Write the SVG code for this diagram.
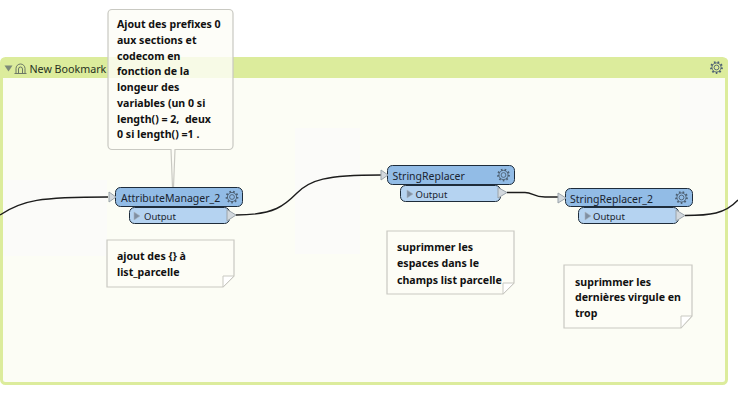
<svg xmlns="http://www.w3.org/2000/svg" width="738" height="402" viewBox="0 0 738 402">
<style>
.note{fill:#fdfdf6;stroke:#c9c9c2;stroke-width:1.2}
.nt{font:bold 10.6px "Noto Sans","Open Sans",sans-serif;fill:#111;white-space:pre}
.lb{font:10.5px "Noto Sans","Open Sans",sans-serif;fill:#1a2430}
.ol{font:9.5px "Noto Sans","Open Sans",sans-serif;fill:#1a2430}
.head{fill:#92bce6;stroke:#1e2c3a;stroke-width:1}
.out{fill:#b5d3f1;stroke:#1e2c3a;stroke-width:1}
.port{fill:#d3d9de;stroke:#9aa3aa;stroke-width:1}
.tri{fill:#7f8fa3;stroke:#a9b4c0;stroke-width:.6}
.gear{fill:none;stroke:#4d6073;stroke-width:.9}
.gt{fill:none;stroke:#4d6073;stroke-width:2;stroke-dasharray:1.6 2.1}
.wire{fill:none;stroke:#1c1c1c;stroke-width:1.4}
</style>
<defs>
<g id="cog"><circle r="2.4" class="gear"/><circle r="4.6" class="gear"/><circle r="5.400" class="gt"/></g>
</defs>
<rect width="738" height="402" fill="#fff"/>
<g id="bookmark">
<rect x="1.5" y="58.5" width="725" height="325" rx="4" fill="#fcfdf5" stroke="#dcec9c" stroke-width="3"/>
<path d="M1 62a4 4 0 0 1 4-4H724a4 4 0 0 1 4 4V78H1Z" fill="#dcec9c"/>
<rect x="3" y="180" width="104" height="76" fill="#fbfbf9"/>
<rect x="295" y="128" width="65" height="126" fill="#fbfbf9"/>
<rect x="680" y="80" width="45" height="50" fill="#fbfbf9"/>
<path d="M4.500 65.500H12.500L8.500 71.500Z" fill="#7d8a78"/>
<path d="M14.500 73.500H26.500M16 73V68.500a4.500 4.500 0 0 1 9 0V73M18.500 73V69a2 2 0 0 1 4 0V73" fill="none" stroke="#5f6b5f" stroke-width=".9"/>
<text x="29.500" y="73" font-family="Noto Sans, Open Sans, sans-serif" font-size="10.700" fill="#26301e">New Bookmark</text>
<use href="#cog" x="716.500" y="67.500"/>
</g>
<g id="connectors">
<path class="wire" d="M0 215C22 200 40 197 108 197"/>
<path class="wire" d="M236 215C275 215 285 205 297 193C310 180 325 175 381 175"/>
<path class="wire" d="M507 192.500H525C533 192.500 533 197 545 197H558"/>
<path class="wire" d="M685 215.500C710 215.500 725 214 738 200"/>
</g>
<g id="callout">
<path class="note" fill-opacity=".82" d="M112 9.500H229a4 4 0 0 1 4 4V145.500a4 4 0 0 1-4 4H175L173.500 187H172.500L171 149.500H112a4 4 0 0 1-4-4V13.500a4 4 0 0 1 4-4Z"/>
<text class="nt"><tspan x="117" y="28">Ajout des prefixes 0</tspan><tspan x="117" y="44">aux sections et</tspan><tspan x="117" y="60">codecom en</tspan><tspan x="117" y="75">fonction de la</tspan><tspan x="117" y="91">longeur des</tspan><tspan x="117" y="107">variables (un 0 si</tspan><tspan x="117" y="123">length() = 2,  deux</tspan><tspan x="117" y="138">0 si length() =1 .</tspan></text>
</g>
<g id="AttributeManager_2">
<rect class="out" x="129.500" y="207.500" width="100" height="16" rx="5"/>
<rect class="head" x="115.500" y="187.500" width="127" height="19" rx="5"/>
<path class="port" d="M109 192L116 197L109 202Z"/>
<path class="port" d="M227 209.500L236 215L227 221Z"/>
<path class="tri" d="M134 212L140 216L134 220Z"/>
<text class="lb" x="121" y="201.500">AttributeManager_2</text>
<text class="ol" x="144" y="219.500">Output</text>
<use href="#cog" x="232" y="197"/>
</g>
<g id="StringReplacer">
<rect class="out" x="400.500" y="185.500" width="100" height="16" rx="5"/>
<rect class="head" x="387.500" y="165.500" width="127" height="19" rx="5"/>
<path class="port" d="M381 170L388 175L381 180Z"/>
<path class="port" d="M498 187.500L507 192.500L498 198Z"/>
<path class="tri" d="M407 190L413 194L407 198Z"/>
<text class="lb" x="392.500" y="179.500">StringReplacer</text>
<text class="ol" x="415.500" y="198">Output</text>
<use href="#cog" x="503.500" y="175"/>
</g>
<g id="StringReplacer_2">
<rect class="out" x="578.500" y="207.500" width="100" height="16" rx="5"/>
<rect class="head" x="565.500" y="188.500" width="127" height="18" rx="5"/>
<path class="port" d="M558 193L566 198L558 203Z"/>
<path class="port" d="M676 210L685 215.500L676 221Z"/>
<path class="tri" d="M585 212L591 216L585 220Z"/>
<text class="lb" x="570" y="202.500">StringReplacer_2</text>
<text class="ol" x="593" y="220">Output</text>
<use href="#cog" x="681.500" y="197.500"/>
</g>
<g id="note1">
<path class="note" d="M107 240H234V276L223 287H107Z"/>
<path d="M223 287V276H234Z" fill="#fff" stroke="#c9c9c2"/>
<text class="nt"><tspan x="117" y="260">ajout des {} à</tspan><tspan x="117" y="276">list_parcelle</tspan></text>
</g>
<g id="note2">
<path class="note" d="M387 231H514V283L503 294H387Z"/>
<path d="M503 294V283H514Z" fill="#fff" stroke="#c9c9c2"/>
<text class="nt"><tspan x="397" y="251">suprimmer les</tspan><tspan x="397" y="267">espaces dans le</tspan><tspan x="397" y="284">champs list parcelle</tspan></text>
</g>
<g id="note3">
<path class="note" d="M564 265H692V316L681 328H564Z"/>
<path d="M681 328V316H692Z" fill="#fff" stroke="#c9c9c2"/>
<text class="nt"><tspan x="575" y="286">suprimmer les</tspan><tspan x="575" y="301">dernières virgule en</tspan><tspan x="575" y="317">trop</tspan></text>
</g>
</svg>
